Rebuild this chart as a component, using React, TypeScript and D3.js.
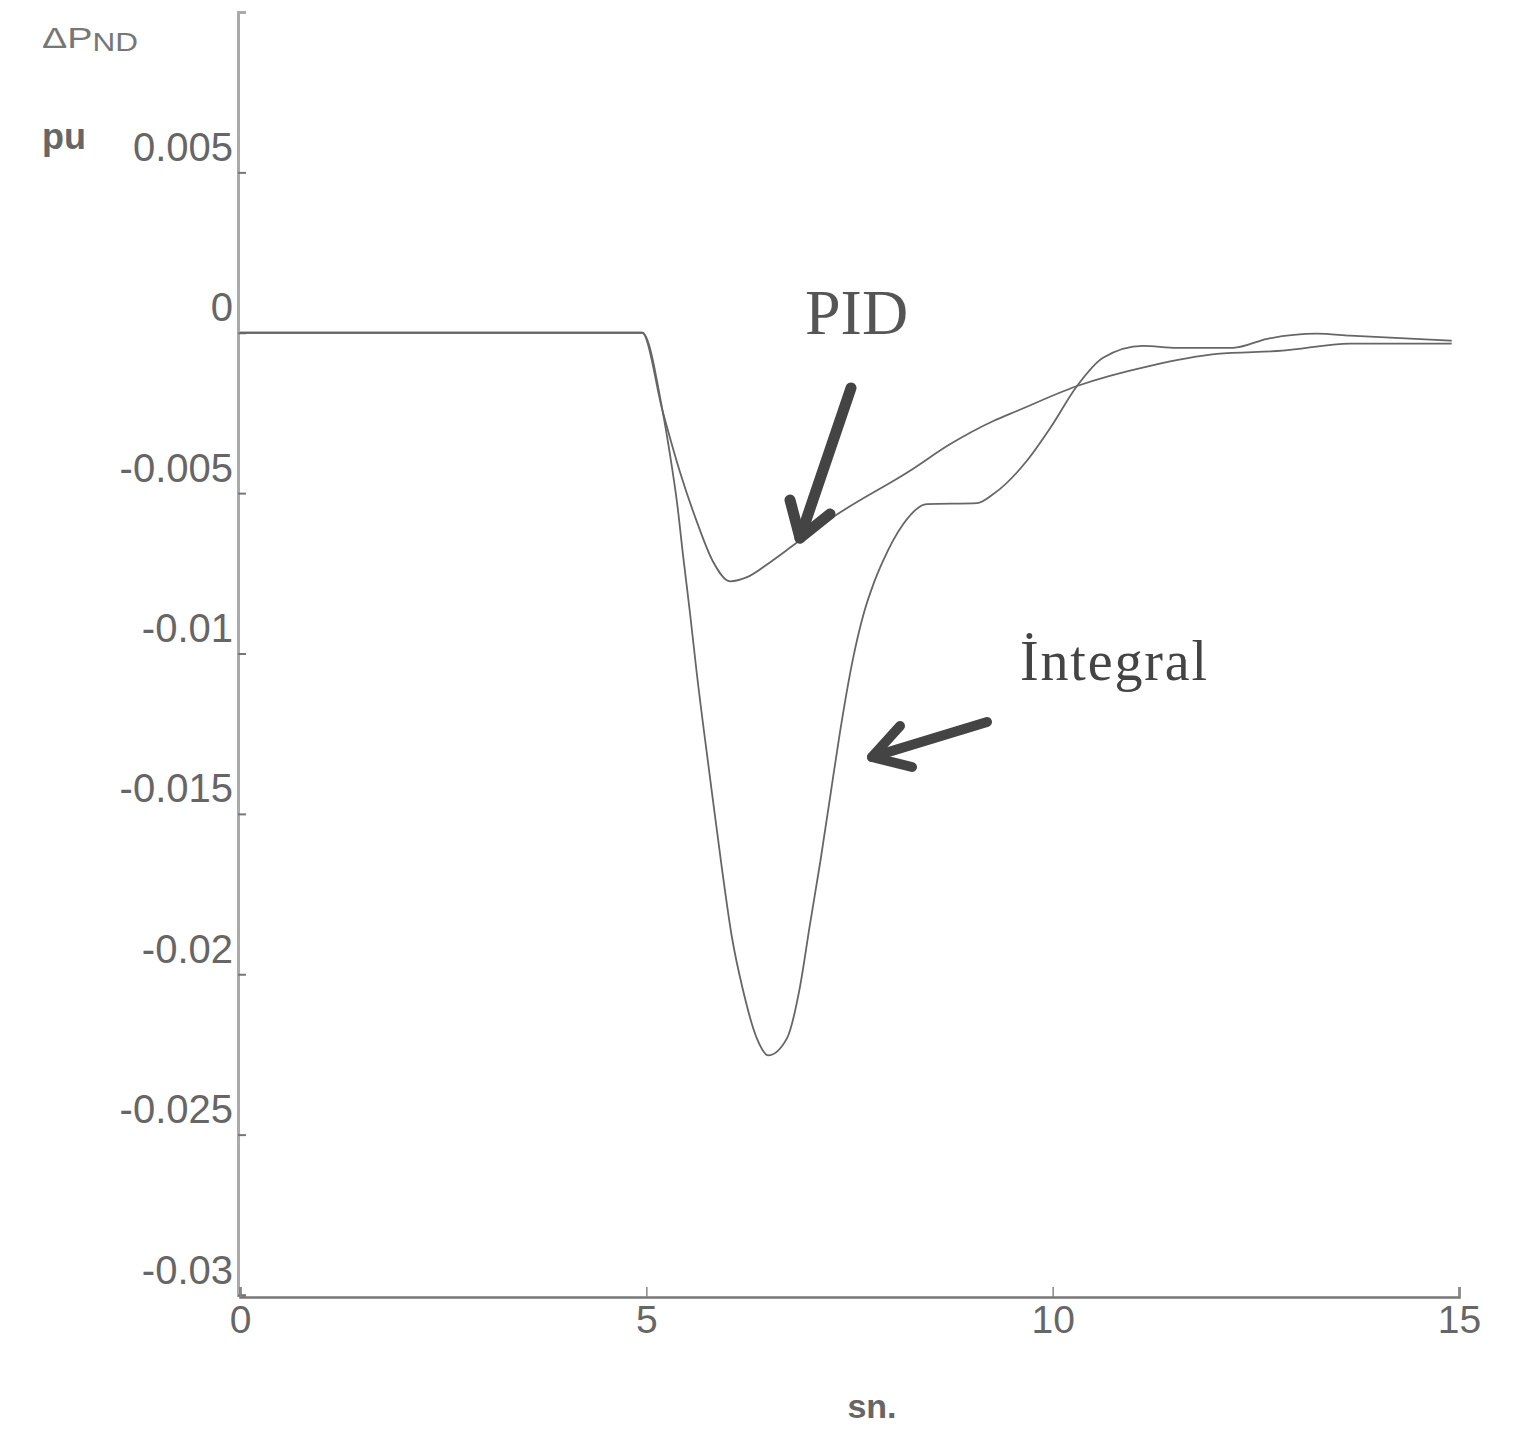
import React, { useEffect, useRef } from "react";
import * as d3 from "d3";

// time axis (sn.) and response values (pu)
const pidTime = [0, 4.95, 5.2, 5.41, 5.62, 5.82, 6.03, 6.24, 6.52, 6.85, 7.35, 8.24, 8.74, 9.27, 9.56, 10.3, 11.2, 12.02, 12.83, 13.66, 14.91];
const pidValue = [0, 0, -0.00244, -0.00431, -0.00588, -0.00713, -0.00775, -0.00762, -0.00716, -0.00655, -0.00566, -0.00431, -0.00347, -0.00275, -0.00244, -0.00166, -0.00103, -0.00066, -0.00056, -0.00034, -0.00034];

const intTime = [0, 4.95, 5.2, 5.29, 5.38, 5.45, 5.54, 5.62, 5.78, 5.93, 6.05, 6.19, 6.36, 6.5, 6.73, 6.89, 7.01, 7.14, 7.26, 7.38, 7.54, 7.67, 7.8, 7.91, 8.16, 8.45, 9.07, 9.27, 9.68, 9.97, 10.3, 10.62, 11.11, 11.53, 12.22, 12.64, 13.25, 13.66, 14.91];
const intValue = [0, 0, -0.00244, -0.00378, -0.00534, -0.0069, -0.0088, -0.0106, -0.0138, -0.0167, -0.0188, -0.0205, -0.022, -0.02253, -0.022, -0.0204, -0.0185, -0.0165, -0.0145, -0.0125, -0.0102, -0.0088, -0.0078, -0.00713, -0.00597, -0.00534, -0.00531, -0.00503, -0.004, -0.00297, -0.00166, -0.00078, -0.00041, -0.00047, -0.00047, -0.00019, -0.00003, -0.00009, -0.00025];

const xTicks = [0, 5, 10, 15];
const yTicks = [0.005, 0, -0.005, -0.01, -0.015, -0.02, -0.025, -0.03];
const yTickLabels = ["0.005", "0", "-0.005", "-0.01", "-0.015", "-0.02", "-0.025", "-0.03"];

const App = () => {
  const svgRef = useRef<SVGSVGElement>(null);

  useEffect(() => {
    document.body.style.margin = "0";
    const w = 1538;
    const h = 1440;
    const svg = d3.select(svgRef.current).attr("width", w).attr("height", h);
    svg.selectAll("*").remove();

    svg.append("rect").attr("width", w).attr("height", h).attr("fill", "#fff");

    // scales
    const x = d3.scaleLinear().domain([0, 15]).range([240, 1459]);
    const y = d3.scaleLinear().domain([-0.03, 0.01]).range([1295, 12]);
    const sans = "'Liberation Sans', Arial, sans-serif";
    const serif = "'Liberation Serif', 'Times New Roman', serif";

    // y axis
    const yAxis = d3
      .axisLeft(y)
      .tickValues(yTicks)
      .tickSize(-8)
      .tickFormat((d, i) => yTickLabels[i]);
    const gy = svg.append("g").attr("transform", `translate(${x(0) - 2},0)`).call(yAxis);
    gy.select(".domain").attr("stroke", "#aaa").attr("stroke-width", 3);
    gy.selectAll(".tick line").attr("stroke", "#777").attr("stroke-width", 2);
    gy.selectAll(".tick text")
      .attr("x", -5)
      .attr("dy", -12)
      .attr("fill", "#666")
      .attr("font-family", sans)
      .attr("font-size", 40);

    // x axis
    const xAxis = d3.axisBottom(x).tickValues(xTicks).tickSize(-10).tickFormat(d3.format("d"));
    const gx = svg.append("g").attr("transform", `translate(0,${y(-0.03) + 2})`).call(xAxis);
    gx.select(".domain").attr("stroke", "#777").attr("stroke-width", 2.5);
    gx.selectAll(".tick line").attr("stroke", "#888").attr("stroke-width", 1.5);
    gx.selectAll(".tick text")
      .attr("y", 8)
      .attr("dy", "0.71em")
      .attr("fill", "#666")
      .attr("font-family", sans)
      .attr("font-size", 39);

    // axis labels
    const yLabel = svg
      .append("text")
      .attr("x", 42)
      .attr("y", 48)
      .attr("fill", "#777")
      .attr("font-family", sans)
      .attr("textLength", 96)
      .attr("lengthAdjust", "spacingAndGlyphs");
    yLabel.append("tspan").attr("font-size", 30).text("ΔP");
    yLabel.append("tspan").attr("font-size", 25).attr("dy", 3).text("ND");

    svg
      .append("text")
      .attr("x", 42)
      .attr("y", 149)
      .attr("fill", "#666")
      .attr("font-family", sans)
      .attr("font-weight", "bold")
      .attr("font-size", 36)
      .text("pu");

    svg
      .append("text")
      .attr("x", 872)
      .attr("y", 1418)
      .attr("text-anchor", "middle")
      .attr("fill", "#666")
      .attr("font-family", sans)
      .attr("font-weight", "bold")
      .attr("font-size", 34)
      .text("sn.");

    // curves
    const line = d3
      .line<[number, number]>()
      .x((d) => x(d[0]))
      .y((d) => y(d[1]))
      .curve(d3.curveMonotoneX);

    const series = [
      pidTime.map((t, i) => [t, pidValue[i]] as [number, number]),
      intTime.map((t, i) => [t, intValue[i]] as [number, number]),
    ];
    svg
      .selectAll("path.curve")
      .data(series)
      .join("path")
      .attr("class", "curve")
      .attr("d", (d) => line(d))
      .attr("fill", "none")
      .attr("stroke", "#666")
      .attr("stroke-width", 1.8);

    // annotations
    svg
      .append("text")
      .attr("x", 805)
      .attr("y", 334)
      .attr("fill", "#555")
      .attr("font-family", serif)
      .attr("font-size", 64)
      .text("PID");

    svg
      .append("text")
      .attr("x", 1020)
      .attr("y", 680)
      .attr("fill", "#444")
      .attr("font-family", serif)
      .attr("font-size", 56)
      .attr("textLength", 187)
      .text("İntegral");

    const arrows = [
      { shaft: [[851, 388], [800, 538]], barbs: [[790, 500], [800, 538], [830, 514]], width: 11 },
      { shaft: [[987, 722], [872, 757]], barbs: [[900, 726], [872, 757], [912, 767]], width: 10 },
    ];
    const arrowG = svg.append("g").attr("stroke", "#444").attr("fill", "none").attr("stroke-linecap", "round").attr("stroke-linejoin", "round");
    arrows.forEach((a) => {
      arrowG.append("path").attr("d", d3.line()(a.shaft as [number, number][])).attr("stroke-width", a.width);
      arrowG.append("path").attr("d", d3.line()(a.barbs as [number, number][])).attr("stroke-width", a.width);
    });
  }, []);

  return (
    <div>
      <svg ref={svgRef} style={{ display: "block" }}></svg>
    </div>
  );
};

export default App;
